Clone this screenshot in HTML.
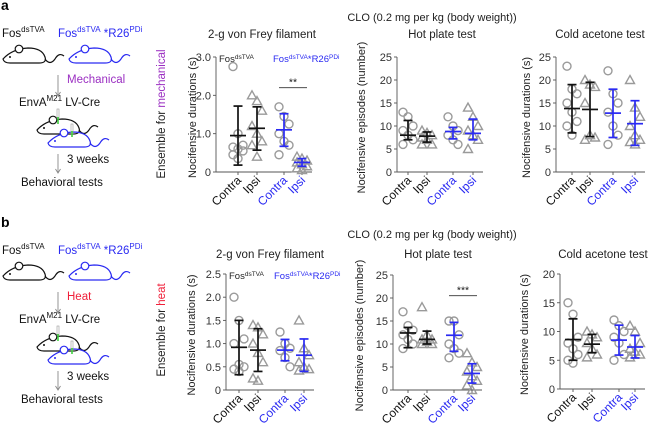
<!DOCTYPE html>
<html><head><meta charset="utf-8">
<style>
body{margin:0;background:#fff;}
svg{display:block;font-family:"Liberation Sans",sans-serif;}
</style></head>
<body>
<svg id="fig" width="649" height="425" viewBox="0 0 649 425" xmlns="http://www.w3.org/2000/svg">
<defs>
<g id="mouse">
<path d="M0,14 Q9,4 25,3 Q39,3 42,12 Q44,18 36,18 L7,18 Q1,18 0,14 Z" fill="none" stroke-width="1.2"/>
<circle cx="16" cy="4" r="3.8" fill="#fff" stroke-width="1.2"/>
<circle cx="7" cy="12" r="1" stroke="none"/>
<path d="M42,14 Q47,21 52,14 Q56,7 61,11" fill="none" stroke-width="1.2"/>
</g>
</defs>
<g id="panel-a-diagram"></g>
<g id="panel-b-diagram"></g>
<g id="plots"></g>
</svg>
<script>
const NS="http://www.w3.org/2000/svg";
const svg=document.getElementById('fig');
function mk(tag,attrs,parent,text){const e=document.createElementNS(NS,tag);for(const k in attrs)e.setAttribute(k,attrs[k]);if(text!==undefined)e.textContent=text;(parent||svg).appendChild(e);return e;}
const BLUE="#2a2af2", GRAY="#9a9a9a";

// ---------- data ----------
const categories=["Contra","Ipsi","Contra","Ipsi"];
const a1Points=[[2.75,1.0,0.7,0.65,0.6,0.55,0.45,0.35],[2.0,1.85,1.6,1.2,1.0,0.8,0.7,0.4],[1.7,1.45,1.25,1.0,0.8,0.7,0.45],[0.4,0.35,0.3,0.25,0.2,0.15,0.1,0.05]];
const a1Mean=[0.95,1.14,1.1,0.25], a1Lo=[0.18,0.57,0.67,0.15], a1Hi=[1.72,1.7,1.52,0.35];
const a1Ticks=[0,1,2,3], a1TickLabels=["0","1.0","2.0","3.0"];
const a2Points=[[13,12,10,9,8,7,6],[9,8.5,8,7.5,7,6,6],[12,10,9,8,7,6],[14,12,10,9,8,7,5]];
const a2Mean=[8,7.8,8.8,8.4], a2Lo=[7,6.5,7.2,7], a2Hi=[11.2,8.7,9.7,11.5];
const a3Points=[[23,18,17,15,13,11,10,8],[20,19,18.5,15,8,7.5,7],[22,17,15,13,10,8,6],[20,14,12,10,8,7,6.5,6]];
const a3Mean=[13.8,13.6,12.8,10.5], a3Lo=[8.5,7.7,7.5,5.8], a3Hi=[19,19.5,18,15.5];
const ticks25=[0,5,10,15,20,25], ticks25Labels=["0","5","10","15","20","25"];
const b1Points=[[2.0,1.5,1.1,1.0,0.55,0.5,0.45,0.4],[1.4,1.35,1.2,1.0,0.8,0.6,0.25,0.2],[1.25,1.0,0.9,0.85,0.7,0.5],[1.5,0.9,0.75,0.6,0.5,0.45,0.42]];
const b1Mean=[0.92,0.86,0.86,0.75], b1Lo=[0.33,0.4,0.63,0.4], b1Hi=[1.5,1.32,1.09,1.1];
const b1Ticks=[0,0.5,1,1.5,2,2.5], b1TickLabels=["0","0.5","1.0","1.5","2.0","2.5"];
const b2Points=[[17,14,13,12,11,10,9],[18,12,11,11,10.5,10,10],[15,15,12,10,9,8,7],[8,6,5,4,3,2,1,0]];
const b2Mean=[12.4,11,11.9,3.6], b2Lo=[9.2,10,8.4,1.5], b2Hi=[13.6,12.8,14.7,5.7];
const b3Points=[[15,13,9,8,7,6,5,4.5],[10,9.5,9,8,7,6,5.5],[12,11,10,9,8,6,5],[11,10,8,7,6.5,6,5.5]];
const b3Mean=[8.6,7.8,8.5,7.3], b3Lo=[5,6.3,5.9,5.4], b3Hi=[12.2,9.5,11.1,9.3];
const ticks20=[0,5,10,15,20], ticks20Labels=["0","5","10","15","20"];

// ---------- layout ----------
const plots=[
 {id:'a-von-frey',title:'2-g von Frey filament',ytitle:'Nocifensive durations (s)',ax:216,cx:[238,257,284,302],yTop:57,yBot:172,max:3,ticks:a1Ticks,tl:a1TickLabels,pts:a1Points,mean:a1Mean,lo:a1Lo,hi:a1Hi,legend:true,sig:{t:'**',v:2.2},ytx:196,ttx:262,tty:38},
 {id:'a-hot-plate',title:'Hot plate test',ytitle:'Nocifensive episodes (number)',ax:397,cx:[408,427,453,473],yTop:57,yBot:172,max:25,ticks:ticks25,tl:ticks25Labels,pts:a2Points,mean:a2Mean,lo:a2Lo,hi:a2Hi,ytx:365,ttx:442,tty:38},
 {id:'a-cold-acetone',title:'Cold acetone test',ytitle:'Nocifensive durations (s)',ax:556,cx:[572,590,613,635],yTop:57,yBot:172,max:25,ticks:ticks25,tl:ticks25Labels,pts:a3Points,mean:a3Mean,lo:a3Lo,hi:a3Hi,ytx:530,ttx:600,tty:38},
 {id:'b-von-frey',title:'2-g von Frey filament',ytitle:'Nocifensive durations (s)',ax:226,cx:[239,258,285,304],yTop:274,yBot:390,max:2.5,ticks:b1Ticks,tl:b1TickLabels,pts:b1Points,mean:b1Mean,lo:b1Lo,hi:b1Hi,legend:true,ytx:195,ttx:270,tty:258},
 {id:'b-hot-plate',title:'Hot plate test',ytitle:'Nocifensive episodes (number)',ax:393,cx:[408,427,454,472],yTop:275,yBot:390,max:25,ticks:ticks25,tl:ticks25Labels,pts:b2Points,mean:b2Mean,lo:b2Lo,hi:b2Hi,sig:{t:'***',v:20.5},ytx:363,ttx:438,tty:258},
 {id:'b-cold-acetone',title:'Cold acetone test',ytitle:'Nocifensive durations (s)',ax:560,cx:[573,592,619,635],yTop:274,yBot:389,max:20,ticks:ticks20,tl:ticks20Labels,pts:b3Points,mean:b3Mean,lo:b3Lo,hi:b3Hi,ytx:528,ttx:603,tty:258}
];

const root=document.getElementById('plots');
plots.forEach(p=>{
 const g=mk('g',{},root);
 
 
 const y=v=>p.yBot-(v/p.max)*(p.yBot-p.yTop);
 const t=mk('text',{x:p.ttx,y:p.tty,'font-size':11.5,'text-anchor':'middle',fill:'#222'},g,p.title);
 
 
 const yt=mk('text',{x:0,y:0,'font-size':11,'text-anchor':'middle',fill:'#222',transform:`translate(${p.ytx},${(p.yTop+p.yBot)/2+3}) rotate(-90)`},g,p.ytitle);
 
 
 const xEnd=p.cx[3]+10;
 const ya=mk('line',{x1:p.ax,y1:p.yTop,x2:p.ax,y2:p.yBot,stroke:'#555','stroke-width':0.9},g);
 
 
 const xa=mk('line',{x1:p.ax,y1:p.yBot,x2:xEnd,y2:p.yBot,stroke:'#555','stroke-width':0.9},g);
 
 
 p.ticks.forEach((v,i)=>{
  mk('line',{x1:p.ax-3,y1:y(v),x2:p.ax,y2:y(v),stroke:'#555','stroke-width':0.9},g);
  const tl=mk('text',{x:p.ax-5,y:y(v)+4,'font-size':11,'text-anchor':'end',fill:'#333'},g,p.tl[i]);
  
  
 });
 p.cx.forEach((cx,ci)=>{
  const col=ci<2?'#111':BLUE;
  mk('line',{x1:cx,y1:p.yBot,x2:cx,y2:p.yBot+3,stroke:'#555','stroke-width':0.9},g);
  const xl=mk('text',{x:0,y:0,'font-size':12,'text-anchor':'end',fill:col,transform:`translate(${cx+4},${p.yBot+9}) rotate(-45)`},g,categories[ci]);
  
  
  const arr=p.pts[ci];
  arr.forEach((v,k)=>{
   const off=((k%3)-1)*5;
   const px=cx+off, py=y(v);
   let m;
   if(ci%2===0) m=mk('circle',{cx:px,cy:py,r:4,fill:'none',stroke:GRAY,'stroke-width':1.4},g);
   else m=mk('path',{d:`M${px},${py-4.5} L${px+4.5},${py+3.5} L${px-4.5},${py+3.5} Z`,fill:'none',stroke:GRAY,'stroke-width':1.4},g);
   
   
  });
  const eb=mk('g',{stroke:col,'stroke-width':1.7},g);
  
  
  mk('line',{x1:cx,y1:y(p.lo[ci]),x2:cx,y2:y(p.hi[ci])},eb);
  mk('line',{x1:cx-4.5,y1:y(p.lo[ci]),x2:cx+4.5,y2:y(p.lo[ci])},eb);
  mk('line',{x1:cx-4.5,y1:y(p.hi[ci]),x2:cx+4.5,y2:y(p.hi[ci])},eb);
  const ml=mk('line',{x1:cx-8,y1:y(p.mean[ci]),x2:cx+8,y2:y(p.mean[ci]),stroke:col,'stroke-width':1.7},g);
  
  
 });
 if(p.sig){
  const sy=y(p.sig.v);
  mk('line',{x1:p.cx[2]-5,y1:sy,x2:p.cx[3]+5,y2:sy,stroke:'#333','stroke-width':0.8},g);
  const st=mk('text',{x:(p.cx[2]+p.cx[3])/2,y:sy-2,'font-size':10.5,'text-anchor':'middle',fill:'#111'},g,p.sig.t);
  
  
 }
 if(p.legend){
  const ly=p.yTop+5;
  const l1=mk('text',{x:p.ax+3,y:ly,'font-size':9.5,fill:'#222'},g);
  l1.innerHTML='Fos<tspan dy="-3" font-size="6.5">dsTVA</tspan>';
  
  
  const l2=mk('text',{x:p.cx[2]-11,y:ly,'font-size':9.5,fill:BLUE},g);
  l2.innerHTML='Fos<tspan dy="-3" font-size="6.5">dsTVA</tspan><tspan dy="3">*R26</tspan><tspan dy="-3" font-size="6.5">PDi</tspan>';
  
  
 }
});

// ---------- diagrams & headers ----------
function diagram(gid,dy,stim,stimCol,ensembleY,cloY){
 const g=document.getElementById(gid);
 const lab=mk('text',{x:1,y:dy+10,'font-size':14,'font-weight':'bold',fill:'#000'},g,gid[6]);
 
 
 const f1=mk('text',{x:2,y:dy+37,'font-size':11.5,fill:'#111'},g);
 f1.innerHTML='Fos<tspan dy="-5" font-size="8">dsTVA</tspan>';
 const f2=mk('text',{x:58,y:dy+37,'font-size':11.5,fill:BLUE},g);
 f2.innerHTML='Fos<tspan dy="-5" font-size="8">dsTVA</tspan><tspan dy="5"> *R26</tspan><tspan dy="-5" font-size="8">PDi</tspan>';
 mk('use',{href:'#mouse',x:3,y:dy+45,stroke:'#111',fill:'#111'},g);
 mk('use',{href:'#mouse',x:69,y:dy+45,stroke:BLUE,fill:BLUE},g);
 mk('line',{x1:58,y1:dy+75,x2:58,y2:dy+95,stroke:'#888','stroke-width':0.9},g);
 mk('path',{d:`M55.5,${dy+92} L58,${dy+96} L60.5,${dy+92}`,fill:'none',stroke:'#888','stroke-width':0.9},g);
 const st=mk('text',{x:67,y:dy+83,'font-size':11.5,fill:stimCol},g,stim);
 
 
 const ev=mk('text',{x:19,y:dy+106,'font-size':11.5,fill:'#111'},g);
 ev.innerHTML='EnvA<tspan dy="-5" font-size="8">M21</tspan><tspan dy="5"> LV-Cre</tspan>';
 mk('use',{href:'#mouse',x:37,y:dy+116,stroke:'#111',fill:'#111'},g);
 mk('use',{href:'#mouse',x:48,y:dy+129,stroke:BLUE,fill:BLUE},g);
 mk('rect',{x:57,y:dy+109,width:2,height:10,fill:'#fff',stroke:'#999','stroke-width':0.6},g);
 mk('line',{x1:58,y1:dy+117,x2:58,y2:dy+124,stroke:'#3c3','stroke-width':1.5},g);
 mk('rect',{x:71,y:dy+124,width:2,height:10,fill:'#fff',stroke:'#999','stroke-width':0.6},g);
 mk('line',{x1:72,y1:dy+131,x2:72,y2:dy+137,stroke:'#3c3','stroke-width':1.5},g);
 mk('line',{x1:58,y1:dy+154,x2:58,y2:dy+172,stroke:'#888','stroke-width':0.9},g);
 mk('path',{d:`M55.5,${dy+169} L58,${dy+173} L60.5,${dy+169}`,fill:'none',stroke:'#888','stroke-width':0.9},g);
 mk('text',{x:67,y:dy+163,'font-size':11.5,fill:'#111'},g,'3 weeks');
 mk('text',{x:21,y:dy+186,'font-size':11.5,fill:'#111'},g,'Behavioral tests');
 const en=mk('text',{x:0,y:0,'font-size':11.5,'text-anchor':'middle',fill:'#222',transform:`translate(165,${ensembleY}) rotate(-90)`},g);
 en.innerHTML='Ensemble for <tspan fill="'+stimCol+'">'+stim.toLowerCase()+'</tspan>';
 
 
 const clo=mk('text',{x:432,y:cloY,'font-size':11,'text-anchor':'middle',fill:'#222'},g,'CLO (0.2 mg per kg (body weight))');
 
 
}
diagram('panel-a-diagram',0,'Mechanical','#9b2fc2',114,21);
diagram('panel-b-diagram',217,'Heat','#f0203a',330,238);
</script>
</body></html>
